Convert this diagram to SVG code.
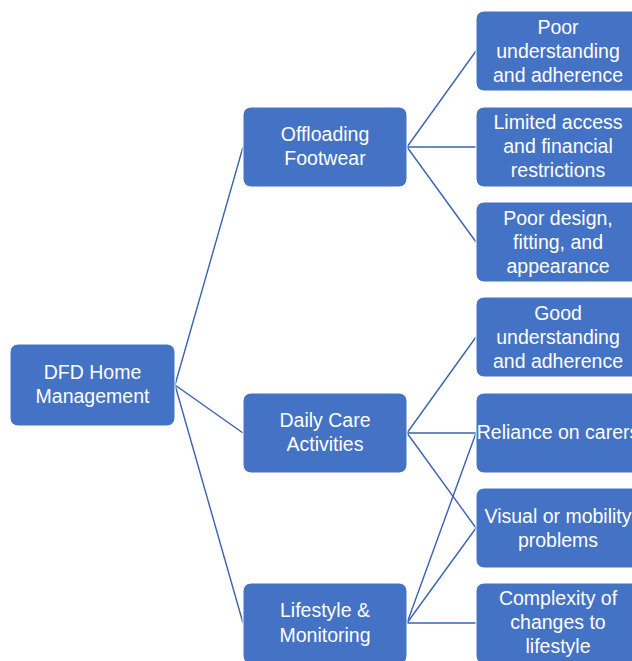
<svg xmlns="http://www.w3.org/2000/svg" width="632" height="661" viewBox="0 0 632 661">
<style>
.box{fill:#4472C4;stroke:#ffffff;stroke-width:1}
.t{font-family:"Liberation Sans",Arial,sans-serif;font-size:19.5px;fill:#ffffff;text-anchor:middle}
.c{stroke:#3A62AE;stroke-width:1.4;fill:none}
</style>
<rect width="632" height="661" fill="#ffffff"/>
<g id="connectors">
<line class="c" x1="175" y1="385" x2="243" y2="147"/>
<line class="c" x1="175" y1="385" x2="243" y2="433"/>
<line class="c" x1="175" y1="385" x2="243" y2="623"/>
<line class="c" x1="407" y1="147" x2="476" y2="51"/>
<line class="c" x1="407" y1="147" x2="476" y2="147"/>
<line class="c" x1="407" y1="147" x2="476" y2="242"/>
<line class="c" x1="407" y1="433" x2="476" y2="337"/>
<line class="c" x1="407" y1="433" x2="476" y2="433"/>
<line class="c" x1="407" y1="433" x2="476" y2="528"/>
<line class="c" x1="407" y1="623" x2="476" y2="433"/>
<line class="c" x1="407" y1="623" x2="476" y2="528"/>
<line class="c" x1="407" y1="623" x2="476" y2="623"/>
</g>
<g id="root">
<rect class="box" x="10" y="344" width="165" height="82" rx="8"/>
<text class="t" x="92.5" y="379">DFD Home</text>
<text class="t" x="92.5" y="403">Management</text>
</g>
<g id="offloading">
<rect class="box" x="243" y="107" width="164" height="80" rx="8"/>
<text class="t" x="325" y="141">Offloading</text>
<text class="t" x="325" y="165">Footwear</text>
</g>
<g id="dailycare">
<rect class="box" x="243" y="393" width="164" height="80" rx="8"/>
<text class="t" x="325" y="427">Daily Care</text>
<text class="t" x="325" y="451">Activities</text>
</g>
<g id="lifestyle">
<rect class="box" x="243" y="583" width="164" height="81" rx="8"/>
<text class="t" x="325" y="617">Lifestyle &amp;</text>
<text class="t" x="325" y="642">Monitoring</text>
</g>
<g id="poor-understanding">
<rect class="box" x="476" y="11" width="164" height="80" rx="8"/>
<text class="t" x="558" y="34">Poor</text>
<text class="t" x="558" y="58">understanding</text>
<text class="t" x="558" y="82">and adherence</text>
</g>
<g id="limited-access">
<rect class="box" x="476" y="107" width="164" height="80" rx="8"/>
<text class="t" x="558" y="129">Limited access</text>
<text class="t" x="558" y="153">and financial</text>
<text class="t" x="558" y="177">restrictions</text>
</g>
<g id="poor-design">
<rect class="box" x="476" y="202" width="164" height="80" rx="8"/>
<text class="t" x="558" y="225">Poor design,</text>
<text class="t" x="558" y="249">fitting, and</text>
<text class="t" x="558" y="273">appearance</text>
</g>
<g id="good-understanding">
<rect class="box" x="476" y="297" width="164" height="80" rx="8"/>
<text class="t" x="558" y="320">Good</text>
<text class="t" x="558" y="344">understanding</text>
<text class="t" x="558" y="368">and adherence</text>
</g>
<g id="reliance">
<rect class="box" x="476" y="393" width="164" height="80" rx="8"/>
<text class="t" x="558" y="439">Reliance on carers</text>
</g>
<g id="visual">
<rect class="box" x="476" y="488" width="164" height="80" rx="8"/>
<text class="t" x="558" y="523">Visual or mobility</text>
<text class="t" x="558" y="547">problems</text>
</g>
<g id="complexity">
<rect class="box" x="476" y="583" width="164" height="81" rx="8"/>
<text class="t" x="558" y="605">Complexity of</text>
<text class="t" x="558" y="629">changes to</text>
<text class="t" x="558" y="653">lifestyle</text>
</g>
</svg>
